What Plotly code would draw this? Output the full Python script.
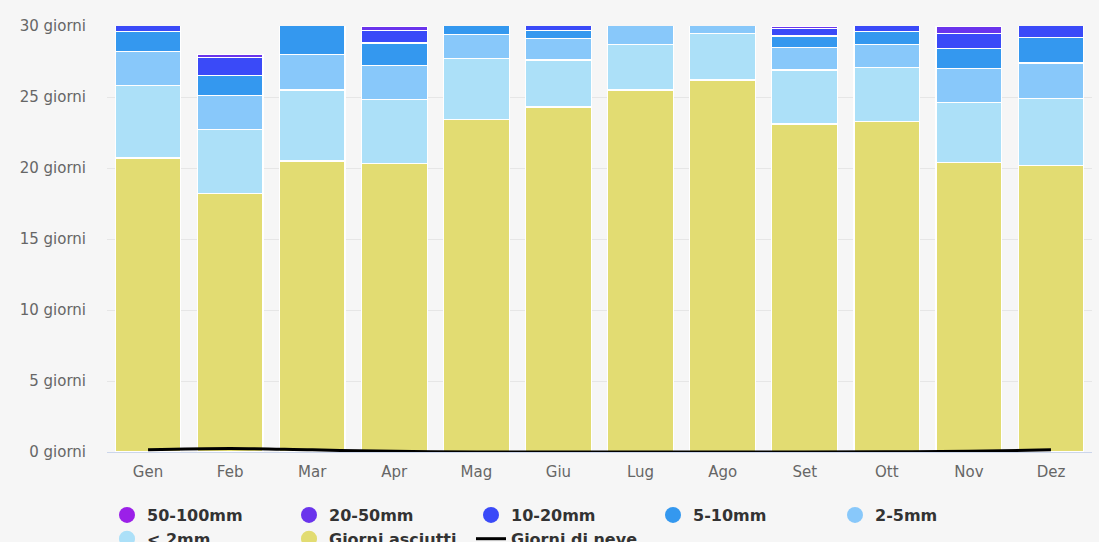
import plotly.graph_objects as go

months = ["Gen", "Feb", "Mar", "Apr", "Mag", "Giu", "Lug", "Ago", "Set", "Ott", "Nov", "Dez"]
dry = [20.7, 18.2, 20.5, 20.3, 23.4, 24.3, 25.5, 26.2, 23.1, 23.3, 20.4, 20.2]
lt2 = [5.1, 4.5, 5.0, 4.5, 4.3, 3.3, 3.2, 3.3, 3.8, 3.8, 4.2, 4.7]
r2_5 = [2.4, 2.4, 2.5, 2.4, 1.7, 1.5, 1.6, 1.0, 1.6, 1.6, 2.4, 2.5]
r5_10 = [1.4, 1.4, 2.3, 1.6, 0.8, 0.6, 0.5, 0.4, 0.8, 0.9, 1.4, 1.8]
r10_20 = [1.0, 1.3, 0.55, 0.9, 0.55, 0.35, 0.2, 0.1, 0.55, 0.9, 1.05, 1.4]
r20_50 = [0.3, 0.2, 0.15, 0.3, 0.2, 0.0, 0.0, 0.0, 0.15, 0.4, 0.5, 0.35]
r50_100 = [0.1, 0.0, 0.0, 0.05, 0.05, 0.0, 0.0, 0.0, 0.05, 0.1, 0.1, 0.05]
snow = [0.15, 0.25, 0.15, 0.05, 0.0, 0.0, 0.0, 0.0, 0.0, 0.02, 0.05, 0.15]
yticks = [0, 5, 10, 15, 20, 25, 30]
yticklabels = [f"{v} giorni" for v in yticks]

series = [
    ("Giorni asciutti", dry, "#e2dc72", 7),
    ("< 2mm", lt2, "#ace0f8", 6),
    ("2-5mm", r2_5, "#88c8fa", 5),
    ("5-10mm", r5_10, "#3498ef", 4),
    ("10-20mm", r10_20, "#3a4af8", 3),
    ("20-50mm", r20_50, "#6a34ec", 2),
    ("50-100mm", r50_100, "#9b20e8", 1),
]

BG = "#f6f6f6"

fig = go.Figure()
for name, vals, col, rank in series:
    fig.add_trace(go.Bar(
        x=months, y=vals, name=name, marker=dict(color=col, line=dict(color="white", width=1.2)),
        showlegend=False, hoverinfo="skip",
    ))
    fig.add_trace(go.Scatter(
        x=[None], y=[None], mode="markers", name=name,
        marker=dict(color=col, size=16, symbol="circle"), legendrank=rank,
    ))

fig.add_trace(go.Scatter(
    x=months, y=snow, mode="lines", name="Giorni di neve",
    line=dict(color="black", width=3, shape="spline"), legendrank=8, cliponaxis=False,
))

fig.update_layout(
    width=1099, height=542,
    barmode="stack", bargap=0.2,
    paper_bgcolor=BG, plot_bgcolor=BG,
    margin=dict(l=107, r=7, t=26, b=90),
    font=dict(family="DejaVu Sans", color="#666666", size=15),
    showlegend=True,
    legend=dict(
        orientation="h", x=0, xanchor="left",
        yref="container", y=(542 - 498) / 542, yanchor="top",
        entrywidth=137, entrywidthmode="pixels", traceorder="normal",
        font=dict(family="DejaVu Sans", size=16, color="#333333", weight="bold"),
        bgcolor="rgba(0,0,0,0)", itemclick=False,
    ),
)
fig.update_xaxes(
    showline=True, linecolor="#ccd6eb", linewidth=1, showgrid=False,
    ticks="outside", ticklen=6, tickcolor="rgba(0,0,0,0)",
    tickfont=dict(size=15, color="#666666"),
)
fig.update_yaxes(
    range=[0, 30], tickvals=yticks, ticktext=yticklabels,
    showgrid=True, gridcolor="#e6e6e6", gridwidth=1, zeroline=False,
    ticklabelstandoff=20, tickfont=dict(size=15, color="#666666"),
)

fig.write_html(
    "out.html",
    config={"displayModeBar": False},
    post_script="document.body.style.margin='0';document.body.style.background='" + BG + "';",
)
